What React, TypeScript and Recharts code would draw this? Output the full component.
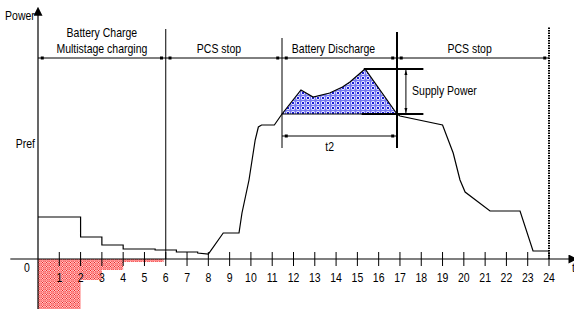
import { Area, ComposedChart, Line, ReferenceDot, ReferenceLine, XAxis, YAxis } from "recharts";

// hours on the time axis
const hourTicks = [1, 2, 3, 4, 5, 6, 7, 8, 9, 10, 11, 12, 13, 14, 15, 16, 17, 18, 19, 20, 21, 22, 23, 24];

// load / power curve over the day
const loadHours = [0, 2, 2, 3, 3, 4, 4, 5.5, 5.5, 6.5, 6.5, 7.5, 7.5, 8, 8.7, 9.44, 9.58, 9.91, 10.2, 10.35, 10.5, 11.1, 11.46, 16.86, 17.0, 19.0, 19.5, 19.82, 20.06, 21.23, 22.64, 23.25, 24];
const loadPower = [42, 42, 22, 22, 14, 14, 10, 10, 9, 9, 7, 7, 6, 5, 26, 26, 46, 79, 119, 132, 134, 134, 145, 145, 143, 134, 106, 79, 67, 48, 48, 8, 8];

// battery discharge (above Pref level)
const dischargeHours = [11.46, 12.35, 12.92, 13.7, 14.3, 14.65, 15.36, 16.86];
const dischargePower = [145, 169, 162, 166, 172, 177, 190, 145];
const prefLevel = 145;
const peakLevel = 190;

// battery charge (negative power, multistage)
const chargeHours = [0, 2, 3, 4, 5.9];
const chargePower = [-50, -21, -11, -3, -3];

// phase segments along the top dimension line
const phaseBounds = [0, 6, 11.46, 16.86, 24];

const loadData = loadHours.map((h, i) => ({ h, p: loadPower[i] }));
const dischargeData = dischargeHours.map((h, i) => ({ h, p: dischargePower[i] }));
const chargeData = chargeHours.map((h, i) => ({ h, p: chargePower[i] }));

const FONT = "'Liberation Sans', Arial, sans-serif";

// narrow-looking text, like the condensed font of the original
const note = (key: string, x: number, y: number, text: string, anchor: "start" | "middle" | "end" = "middle") => (
  <ReferenceDot
    key={key}
    x={x}
    y={y}
    r={1}
    ifOverflow="visible"
    shape={(p: any) => (
      <text
        transform={`translate(${p.cx},${p.cy}) scale(0.84,1)`}
        textAnchor={anchor}
        dominantBaseline="central"
        fontFamily={FONT}
        fontSize={12.5}
        fill="#000"
      >
        {text}
      </text>
    )}
  />
);

const square = (key: string, x: number, y: number) => (
  <ReferenceDot
    key={key}
    x={x}
    y={y}
    r={1}
    ifOverflow="visible"
    shape={(p: any) => <rect x={p.cx - 1.5} y={p.cy - 1.5} width={3} height={3} fill="#000" />}
  />
);

const seg = (key: string, x1: number, y1: number, x2: number, y2: number, width = 1, dash?: string, marker?: string) => (
  <ReferenceLine
    key={key}
    segment={[{ x: x1, y: y1 }, { x: x2, y: y2 }]}
    ifOverflow="visible"
    shape={(p: any) => (
      <line
        x1={p.x1}
        y1={p.y1}
        x2={p.x2}
        y2={p.y2}
        stroke="#000"
        strokeWidth={width}
        strokeDasharray={dash}
        markerEnd={marker ? `url(#${marker})` : undefined}
        markerStart={marker === "dimArrow" ? "url(#dimArrowStart)" : undefined}
      />
    )}
  />
);

export default function App() {
  return (
    <div style={{ position: "absolute", left: 0, top: 0, background: "#fff" }}>
      <ComposedChart width={574} height={309} margin={{ top: 12, right: 25, bottom: 0, left: 38 }}>
        <defs>
          <pattern id="redHatch" width="4" height="4" patternUnits="userSpaceOnUse">
            <rect width="4" height="4" fill="#ffc4c4" />
            <path d="M0 0.5H4M0.5 0V4" stroke="#ff8c8c" strokeWidth="1" />
            <path d="M1.4 1.4L3.6 3.6M3.6 1.4L1.4 3.6" stroke="#ee1c1c" strokeWidth="1" />
          </pattern>
          <pattern id="blueHatch" width="5" height="5" patternUnits="userSpaceOnUse">
            <rect width="5" height="5" fill="#dfe2ff" />
            <path d="M0 0.5H5M0.5 0V5" stroke="#7478f0" strokeWidth="1" />
            <path d="M1.7 1.7L4.3 4.3M4.3 1.7L1.7 4.3" stroke="#1a1ad8" strokeWidth="1" />
          </pattern>
          <marker id="axisArrow" viewBox="0 0 10 10" refX="2" refY="5" markerWidth="9" markerHeight="9" markerUnits="userSpaceOnUse" orient="auto">
            <path d="M0 0L10 5L0 10Z" fill="#000" />
          </marker>
          <marker id="dimArrow" viewBox="0 0 10 10" refX="10" refY="5" markerWidth="5" markerHeight="5" markerUnits="userSpaceOnUse" orient="auto">
            <path d="M0 2L10 5L0 8Z" fill="#000" />
          </marker>
          <marker id="dimArrowStart" viewBox="0 0 10 10" refX="0" refY="5" markerWidth="5" markerHeight="5" markerUnits="userSpaceOnUse" orient="auto">
            <path d="M10 2L0 5L10 8Z" fill="#000" />
          </marker>
        </defs>
        <XAxis type="number" dataKey="h" domain={[0, 24]} allowDataOverflow hide />
        <YAxis type="number" domain={[-50, 247]} allowDataOverflow hide />

        <Area
          data={chargeData}
          dataKey="p"
          type="stepAfter"
          baseValue={0}
          stroke="none"
          fill="url(#redHatch)"
          fillOpacity={1}
          isAnimationActive={false}
        />
        <Area
          data={dischargeData}
          dataKey="p"
          type="linear"
          baseValue={prefLevel}
          stroke="#000"
          strokeWidth={1.2}
          fill="url(#blueHatch)"
          fillOpacity={1}
          isAnimationActive={false}
        />
        <Line data={loadData} dataKey="p" type="linear" dot={false} stroke="#000" strokeWidth={1.2} isAnimationActive={false} />

        {/* axes */}
        {seg("xaxis", -1.3, 0, 25.0, 0, 1.2, undefined, "axisArrow")}
        {seg("yaxis", 0, -50, 0, 245, 1.2, undefined, "axisArrow")}
        {hourTicks.map((h) => seg(`tick${h}`, h, -7, h, 7, 1))}
        {hourTicks.map((h) => note(`lab${h}`, h, -19, String(h)))}
        {note("zero", -0.52, -9, "0")}
        {note("t", 25.15, -9, "t")}
        {note("power", -0.15, 243, "Power", "end")}
        {note("pref", -0.14, 115, "Pref", "end")}

        {/* phase dimension line */}
        {seg("phaseLine", 0, 201, 24, 201, 1)}
        {phaseBounds.slice(0, -1).map((b, i) => square(`sqa${i}`, b + 0.2, 201))}
        {phaseBounds.slice(1).map((b, i) => square(`sqb${i}`, b - 0.2, 201))}
        {seg("v6", 6, 0, 6, 230, 1)}
        {seg("v11", 11.46, 111, 11.46, 221, 1)}
        {seg("v17", 16.86, 111, 16.86, 227, 2)}
        {seg("v24", 24, 0, 24, 232, 2, "1.5 1")}
        {note("bc1", 3.0, 226, "Battery Charge")}
        {note("bc2", 3.0, 210, "Multistage charging")}
        {note("pcs1", 8.5, 210, "PCS stop")}
        {note("bd", 13.88, 210, "Battery Discharge")}
        {note("pcs2", 20.27, 210, "PCS stop")}

        {/* t2 dimension */}
        {seg("t2line", 11.46, 123, 16.86, 123, 1)}
        {square("t2a", 11.66, 123)}
        {square("t2b", 16.66, 123)}
        {note("t2", 13.7, 112, "t2")}

        {/* supply power dimension */}
        {seg("topBar", 15.3, peakLevel, 18.1, peakLevel, 2)}
        {seg("botBar", 15.2, prefLevel, 18.1, prefLevel, 2)}
        {seg("supplyArrow", 17.28, prefLevel + 1, 17.28, peakLevel - 1, 1, undefined, "dimArrow")}
        {note("supply", 17.57, 168, "Supply Power", "start")}
      </ComposedChart>
    </div>
  );
}
